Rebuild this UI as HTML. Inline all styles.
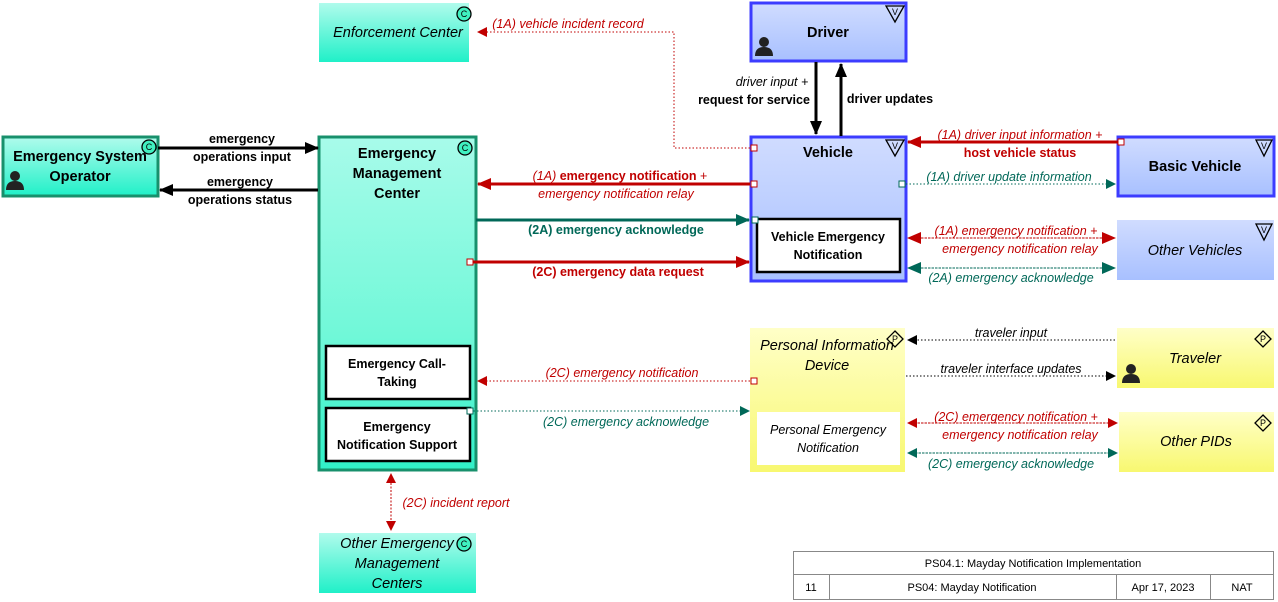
<!DOCTYPE html>
<html><head><meta charset="utf-8"><style>
body{margin:0;background:#fff}
svg{display:block;font-family:"Liberation Sans",sans-serif}
.b{font-weight:bold}
.i{font-style:italic}
</style></head><body>
<svg width="1278" height="602" viewBox="0 0 1278 602" xmlns="http://www.w3.org/2000/svg">
<defs>
<linearGradient id="tg" x1="0" y1="0" x2="0" y2="1"><stop offset="0" stop-color="#b0fbec"/><stop offset="1" stop-color="#20f0c8"/></linearGradient>
<linearGradient id="tg2" x1="0" y1="0" x2="0" y2="1"><stop offset="0" stop-color="#a8fbea"/><stop offset="0.6" stop-color="#70f8d8"/><stop offset="1" stop-color="#30f0c8"/></linearGradient>
<linearGradient id="bg" x1="0" y1="0" x2="0" y2="1"><stop offset="0" stop-color="#d0dcff"/><stop offset="1" stop-color="#a8c0ff"/></linearGradient>
<linearGradient id="yg" x1="0" y1="0" x2="0" y2="1"><stop offset="0" stop-color="#ffffc8"/><stop offset="1" stop-color="#f8f870"/></linearGradient>
<marker id="ak" markerWidth="14" markerHeight="12" refX="13" refY="6" orient="auto" markerUnits="userSpaceOnUse"><path d="M0,0 L14,6 L0,12z" fill="#000"/></marker>
<marker id="ar" markerWidth="14" markerHeight="12" refX="13" refY="6" orient="auto" markerUnits="userSpaceOnUse"><path d="M0,0 L14,6 L0,12z" fill="#c00000"/></marker>
<marker id="at" markerWidth="14" markerHeight="12" refX="13" refY="6" orient="auto" markerUnits="userSpaceOnUse"><path d="M0,0 L14,6 L0,12z" fill="#006858"/></marker>
<marker id="ars" markerWidth="10" markerHeight="10" refX="9" refY="5" orient="auto" markerUnits="userSpaceOnUse"><path d="M0,0 L10,5 L0,10z" fill="#c00000"/></marker>
<marker id="ats" markerWidth="10" markerHeight="10" refX="9" refY="5" orient="auto" markerUnits="userSpaceOnUse"><path d="M0,0 L10,5 L0,10z" fill="#006858"/></marker>
<marker id="aks" markerWidth="10" markerHeight="10" refX="9" refY="5" orient="auto" markerUnits="userSpaceOnUse"><path d="M0,0 L10,5 L0,10z" fill="#000"/></marker>
<g id="person"><circle cx="9" cy="6" r="5" fill="#222"/><path d="M0,20 Q0,11 9,11 Q18,11 18,20z" fill="#222"/></g>
</defs>

<rect x="319" y="3" width="150" height="59" fill="url(#tg)"/>
<rect x="751" y="3" width="155" height="58" fill="url(#bg)" stroke="#3c3cff" stroke-width="3"/>
<rect x="3" y="137" width="155" height="59" fill="url(#tg)" stroke="#18906c" stroke-width="3"/>
<rect x="319" y="137" width="157" height="333" fill="url(#tg2)" stroke="#18906c" stroke-width="3"/>
<rect x="326" y="346" width="144" height="53" fill="#fff" stroke="#000" stroke-width="2.5"/>
<rect x="326" y="408" width="144" height="53" fill="#fff" stroke="#000" stroke-width="2.5"/>
<rect x="751" y="137" width="155" height="144" fill="url(#bg)" stroke="#3c3cff" stroke-width="3"/>
<rect x="757" y="219" width="143" height="53" fill="#fff" stroke="#000" stroke-width="2.5"/>
<rect x="1118" y="137" width="156" height="59" fill="url(#bg)" stroke="#3c3cff" stroke-width="3"/>
<rect x="1117" y="220" width="157" height="60" fill="url(#bg)"/>
<rect x="750" y="328" width="155" height="144" fill="url(#yg)"/>
<rect x="757" y="412" width="143" height="53" fill="#fff"/>
<rect x="1117" y="328" width="157" height="60" fill="url(#yg)"/>
<rect x="1119" y="412" width="155" height="60" fill="url(#yg)"/>
<rect x="319" y="533" width="157" height="60" fill="url(#tg)"/>

<g fill="none" stroke="#000" stroke-width="1.3">
<circle cx="464" cy="14" r="7" fill="#40f0c0"/><circle cx="149" cy="147" r="7" fill="#40f0c0"/><circle cx="465" cy="148" r="7" fill="#40f0c0"/><circle cx="464" cy="544" r="7" fill="#40f0c0"/>
<path d="M886,6 L904,6 L895,22z"/><path d="M886,140 L904,140 L895,156z"/><path d="M1256,140 L1272,140 L1264,156z"/><path d="M1256,224 L1272,224 L1264,240z"/>
<path d="M895,331 L903,339 L895,347 L887,339z"/><path d="M1263,331 L1271,339 L1263,347 L1255,339z"/><path d="M1263,415 L1271,423 L1263,431 L1255,423z"/>
</g>
<g font-size="9" text-anchor="middle"><text x="464" y="17">C</text><text x="149" y="150">C</text><text x="465" y="151">C</text><text x="464" y="547">C</text>
<text x="895" y="15">V</text><text x="895" y="149">V</text><text x="1264" y="149">V</text><text x="1264" y="233">V</text>
<text x="895" y="342">P</text><text x="1263" y="342">P</text><text x="1263" y="426">P</text></g>
<use href="#person" x="755" y="36"/><use href="#person" x="6" y="170"/><use href="#person" x="1122" y="363"/>

<g font-size="14.5" text-anchor="middle">
<text x="398" y="37" class="i">Enforcement Center</text>
<text x="828" y="37" class="b">Driver</text>
<text x="80" y="161" class="b">Emergency System</text><text x="80" y="181" class="b">Operator</text>
<text x="397" y="158" class="b">Emergency</text><text x="397" y="178" class="b">Management</text><text x="397" y="198" class="b">Center</text>
<text x="828" y="157" class="b">Vehicle</text>
<text x="1195" y="171" class="b">Basic Vehicle</text>
<text x="1195" y="255" class="i">Other Vehicles</text>
<text x="827" y="350" class="i">Personal Information</text><text x="827" y="370" class="i">Device</text>
<text x="1195" y="363" class="i">Traveler</text>
<text x="1196" y="446" class="i">Other PIDs</text>
<text x="397" y="548" class="i">Other Emergency</text><text x="397" y="568" class="i">Management</text><text x="397" y="588" class="i">Centers</text>
</g>
<g font-size="12.5" text-anchor="middle">
<text x="397" y="368" class="b">Emergency Call-</text><text x="397" y="386" class="b">Taking</text>
<text x="397" y="431" class="b">Emergency</text><text x="397" y="449" class="b">Notification Support</text>
<text x="828" y="241" class="b">Vehicle Emergency</text><text x="828" y="259" class="b">Notification</text>
<text x="828" y="434" class="i">Personal Emergency</text><text x="828" y="452" class="i">Notification</text>
</g>

<g fill="none">
<path d="M158,148 L318,148" stroke="#000" stroke-width="3" marker-end="url(#ak)"/>
<path d="M318,190 L160,190" stroke="#000" stroke-width="3" marker-end="url(#ak)"/>
<path d="M816,62 L816,134" stroke="#000" stroke-width="3" marker-end="url(#ak)"/>
<path d="M841,136 L841,64" stroke="#000" stroke-width="3" marker-end="url(#ak)"/>
<path d="M750,148 L674,148 L674,32 L478,32" stroke="#c00000" stroke-dasharray="1.5,2" marker-end="url(#ars)"/>
<path d="M750,184 L478,184" stroke="#c00000" stroke-width="3" marker-end="url(#ar)"/>
<path d="M476,220 L749,220" stroke="#006858" stroke-width="3" marker-end="url(#at)"/>
<path d="M470,262 L749,262" stroke="#c00000" stroke-width="3" marker-end="url(#ar)"/>
<path d="M1120,142 L908,142" stroke="#c00000" stroke-width="3" marker-end="url(#ar)"/>
<path d="M906,184 L1115,184" stroke="#006858" stroke-dasharray="1.5,2" marker-end="url(#ats)"/>
<path d="M1115,238 L908,238" stroke="#c00000" stroke-dasharray="1.5,2" marker-end="url(#ar)"/>
<path d="M908,238 L1115,238" stroke="#c00000" stroke-dasharray="1.5,2" marker-end="url(#ar)"/>
<path d="M1115,268 L908,268" stroke="#006858" stroke-dasharray="1.5,2" marker-end="url(#at)"/>
<path d="M908,268 L1115,268" stroke="#006858" stroke-dasharray="1.5,2" marker-end="url(#at)"/>
<path d="M1115,340 L908,340" stroke="#000" stroke-dasharray="1.5,2" marker-end="url(#aks)"/>
<path d="M906,376 L1115,376" stroke="#000" stroke-dasharray="1.5,2" marker-end="url(#aks)"/>
<path d="M750,381 L478,381" stroke="#c00000" stroke-dasharray="1.5,2" marker-end="url(#ars)"/>
<path d="M470,411 L749,411" stroke="#006858" stroke-dasharray="1.5,2" marker-end="url(#ats)"/>
<path d="M1115,423 L908,423" stroke="#c00000" stroke-dasharray="1.5,2" marker-end="url(#ars)"/>
<path d="M908,423 L1117,423" stroke="#c00000" stroke-dasharray="1.5,2" marker-end="url(#ars)"/>
<path d="M1117,453 L908,453" stroke="#006858" stroke-dasharray="1.5,2" marker-end="url(#ats)"/>
<path d="M908,453 L1117,453" stroke="#006858" stroke-dasharray="1.5,2" marker-end="url(#ats)"/>
<path d="M391,530 L391,474" stroke="#c00000" stroke-dasharray="1.5,2" marker-end="url(#ars)"/>
<path d="M391,480 L391,530" stroke="#c00000" stroke-dasharray="1.5,2" marker-end="url(#ars)"/>
</g>
<g fill="#fff" stroke-width="1">
<rect x="751" y="145" width="6" height="6" stroke="#c00000"/><rect x="751" y="181" width="6" height="6" stroke="#c00000"/>
<rect x="467" y="259" width="6" height="6" stroke="#c00000"/><rect x="1118" y="139" width="6" height="6" stroke="#c00000"/>
<rect x="751" y="378" width="6" height="6" stroke="#c00000"/>
<rect x="899" y="181" width="6" height="6" stroke="#006858"/><rect x="752" y="217" width="6" height="6" stroke="#006858"/><rect x="467" y="408" width="6" height="6" stroke="#006858"/>
</g>

<g font-size="12.5" text-anchor="middle">
<text x="242" y="143" class="b">emergency</text><text x="242" y="161" class="b">operations input</text>
<text x="240" y="186" class="b">emergency</text><text x="240" y="204" class="b">operations status</text>
<text x="772" y="86" class="i">driver input +</text><text x="754" y="104" class="b">request for service</text>
<text x="890" y="103" class="b">driver updates</text>
<text x="568" y="28" class="i" fill="#c00000">(1A) vehicle incident record</text>
<text x="620" y="180" fill="#c00000"><tspan class="i">(1A) </tspan><tspan class="b">emergency notification</tspan> +</text>
<text x="616" y="198" class="i" fill="#c00000">emergency notification relay</text>
<text x="616" y="234" class="b" fill="#006858">(2A) emergency acknowledge</text>
<text x="618" y="276" class="b" fill="#c00000">(2C) emergency data request</text>
<text x="1020" y="139" class="i" fill="#c00000">(1A) driver input information +</text>
<text x="1020" y="157" class="b" fill="#c00000">host vehicle status</text>
<text x="1009" y="181" class="i" fill="#006858">(1A) driver update information</text>
<text x="1016" y="235" class="i" fill="#c00000">(1A) emergency notification +</text>
<text x="1020" y="253" class="i" fill="#c00000">emergency notification relay</text>
<text x="1011" y="282" class="i" fill="#006858">(2A) emergency acknowledge</text>
<text x="1011" y="337" class="i">traveler input</text>
<text x="1011" y="373" class="i">traveler interface updates</text>
<text x="1016" y="421" class="i" fill="#c00000">(2C) emergency notification +</text>
<text x="1020" y="439" class="i" fill="#c00000">emergency notification relay</text>
<text x="1011" y="468" class="i" fill="#006858">(2C) emergency acknowledge</text>
<text x="622" y="377" class="i" fill="#c00000">(2C) emergency notification</text>
<text x="626" y="426" class="i" fill="#006858">(2C) emergency acknowledge</text>
<text x="456" y="507" class="i" fill="#c00000">(2C) incident report</text>
</g>

<g fill="none" stroke="#888" stroke-width="1">
<rect x="793.5" y="551.5" width="480" height="48"/>
<path d="M793.5,574.5 H1273.5 M829.5,574.5 V599.5 M1116.5,574.5 V599.5 M1210.5,574.5 V599.5"/>
</g>
<g font-size="11" text-anchor="middle">
<text x="1033" y="567">PS04.1: Mayday Notification Implementation</text>
<text x="811" y="591">11</text><text x="972" y="591">PS04: Mayday Notification</text>
<text x="1163" y="591">Apr 17, 2023</text><text x="1242" y="591">NAT</text>
</g>
</svg>
</body></html>
